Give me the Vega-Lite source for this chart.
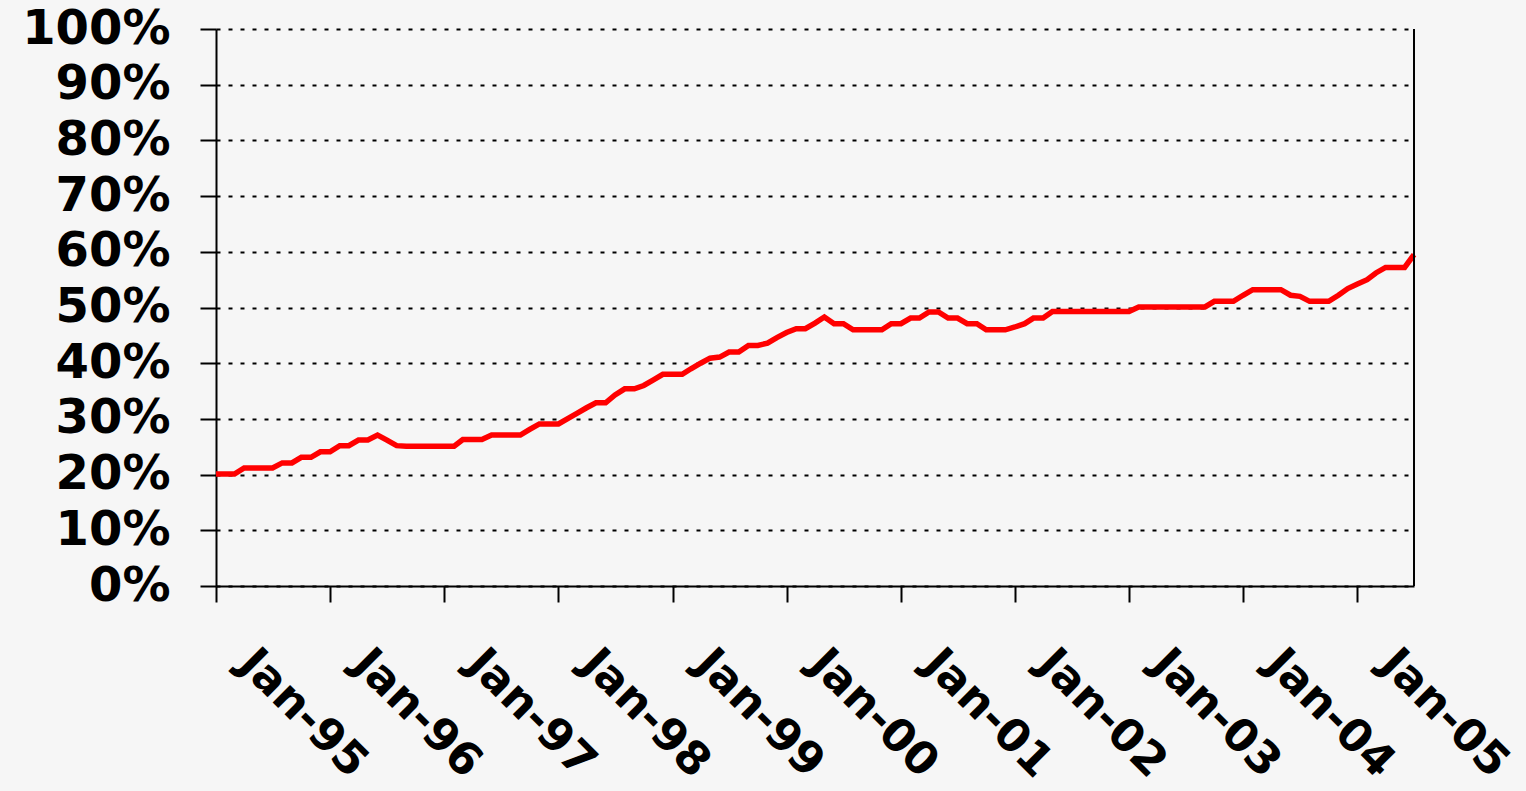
{
  "$schema": "https://vega.github.io/schema/vega-lite/v6.json",
  "autosize": "none",
  "padding": {"left": 216, "top": 29, "right": 112, "bottom": 205},
  "width": 1198,
  "height": 557,
  "background": "#f6f6f6",
  "config": {"view": {"stroke": null}},
  "data": {"values": [
    {"date": "1995/01/01", "share": 0.201}, {"date": "1995/02/01", "share": 0.201}, {"date": "1995/03/01", "share": 0.201},
    {"date": "1995/04/01", "share": 0.212}, {"date": "1995/05/01", "share": 0.212}, {"date": "1995/06/01", "share": 0.212},
    {"date": "1995/07/01", "share": 0.212}, {"date": "1995/08/01", "share": 0.221}, {"date": "1995/09/01", "share": 0.221},
    {"date": "1995/10/01", "share": 0.231}, {"date": "1995/11/01", "share": 0.231}, {"date": "1995/12/01", "share": 0.241},
    {"date": "1996/01/01", "share": 0.241}, {"date": "1996/02/01", "share": 0.252}, {"date": "1996/03/01", "share": 0.252},
    {"date": "1996/04/01", "share": 0.262}, {"date": "1996/05/01", "share": 0.262}, {"date": "1996/06/01", "share": 0.271},
    {"date": "1996/07/01", "share": 0.262}, {"date": "1996/08/01", "share": 0.252}, {"date": "1996/09/01", "share": 0.251},
    {"date": "1996/10/01", "share": 0.251}, {"date": "1996/11/01", "share": 0.251}, {"date": "1996/12/01", "share": 0.251},
    {"date": "1997/01/01", "share": 0.251}, {"date": "1997/02/01", "share": 0.251}, {"date": "1997/03/01", "share": 0.263},
    {"date": "1997/04/01", "share": 0.263}, {"date": "1997/05/01", "share": 0.263}, {"date": "1997/06/01", "share": 0.271},
    {"date": "1997/07/01", "share": 0.271}, {"date": "1997/08/01", "share": 0.271}, {"date": "1997/09/01", "share": 0.271},
    {"date": "1997/10/01", "share": 0.281}, {"date": "1997/11/01", "share": 0.291}, {"date": "1997/12/01", "share": 0.291},
    {"date": "1998/01/01", "share": 0.291}, {"date": "1998/02/01", "share": 0.301}, {"date": "1998/03/01", "share": 0.310},
    {"date": "1998/04/01", "share": 0.320}, {"date": "1998/05/01", "share": 0.329}, {"date": "1998/06/01", "share": 0.329},
    {"date": "1998/07/01", "share": 0.343}, {"date": "1998/08/01", "share": 0.354}, {"date": "1998/09/01", "share": 0.354},
    {"date": "1998/10/01", "share": 0.360}, {"date": "1998/11/01", "share": 0.370}, {"date": "1998/12/01", "share": 0.380},
    {"date": "1999/01/01", "share": 0.380}, {"date": "1999/02/01", "share": 0.380}, {"date": "1999/03/01", "share": 0.390},
    {"date": "1999/04/01", "share": 0.400}, {"date": "1999/05/01", "share": 0.409}, {"date": "1999/06/01", "share": 0.411},
    {"date": "1999/07/01", "share": 0.420}, {"date": "1999/08/01", "share": 0.420}, {"date": "1999/09/01", "share": 0.432},
    {"date": "1999/10/01", "share": 0.432}, {"date": "1999/11/01", "share": 0.436}, {"date": "1999/12/01", "share": 0.446},
    {"date": "2000/01/01", "share": 0.455}, {"date": "2000/02/01", "share": 0.462}, {"date": "2000/03/01", "share": 0.462},
    {"date": "2000/04/01", "share": 0.472}, {"date": "2000/05/01", "share": 0.483}, {"date": "2000/06/01", "share": 0.471},
    {"date": "2000/07/01", "share": 0.471}, {"date": "2000/08/01", "share": 0.460}, {"date": "2000/09/01", "share": 0.460},
    {"date": "2000/10/01", "share": 0.460}, {"date": "2000/11/01", "share": 0.460}, {"date": "2000/12/01", "share": 0.471},
    {"date": "2001/01/01", "share": 0.471}, {"date": "2001/02/01", "share": 0.481}, {"date": "2001/03/01", "share": 0.481},
    {"date": "2001/04/01", "share": 0.492}, {"date": "2001/05/01", "share": 0.492}, {"date": "2001/06/01", "share": 0.481},
    {"date": "2001/07/01", "share": 0.481}, {"date": "2001/08/01", "share": 0.471}, {"date": "2001/09/01", "share": 0.471},
    {"date": "2001/10/01", "share": 0.460}, {"date": "2001/11/01", "share": 0.460}, {"date": "2001/12/01", "share": 0.460},
    {"date": "2002/01/01", "share": 0.465}, {"date": "2002/02/01", "share": 0.471}, {"date": "2002/03/01", "share": 0.481},
    {"date": "2002/04/01", "share": 0.481}, {"date": "2002/05/01", "share": 0.493}, {"date": "2002/06/01", "share": 0.493},
    {"date": "2002/07/01", "share": 0.493}, {"date": "2002/08/01", "share": 0.493}, {"date": "2002/09/01", "share": 0.493},
    {"date": "2002/10/01", "share": 0.493}, {"date": "2002/11/01", "share": 0.493}, {"date": "2002/12/01", "share": 0.493},
    {"date": "2003/01/01", "share": 0.493}, {"date": "2003/02/01", "share": 0.501}, {"date": "2003/03/01", "share": 0.501},
    {"date": "2003/04/01", "share": 0.501}, {"date": "2003/05/01", "share": 0.501}, {"date": "2003/06/01", "share": 0.501},
    {"date": "2003/07/01", "share": 0.501}, {"date": "2003/08/01", "share": 0.501}, {"date": "2003/09/01", "share": 0.501},
    {"date": "2003/10/01", "share": 0.511}, {"date": "2003/11/01", "share": 0.511}, {"date": "2003/12/01", "share": 0.511},
    {"date": "2004/01/01", "share": 0.522}, {"date": "2004/02/01", "share": 0.532}, {"date": "2004/03/01", "share": 0.532},
    {"date": "2004/04/01", "share": 0.532}, {"date": "2004/05/01", "share": 0.532}, {"date": "2004/06/01", "share": 0.522},
    {"date": "2004/07/01", "share": 0.520}, {"date": "2004/08/01", "share": 0.511}, {"date": "2004/09/01", "share": 0.511},
    {"date": "2004/10/01", "share": 0.511}, {"date": "2004/11/01", "share": 0.522}, {"date": "2004/12/01", "share": 0.534},
    {"date": "2005/01/01", "share": 0.542}, {"date": "2005/02/01", "share": 0.550}, {"date": "2005/03/01", "share": 0.562},
    {"date": "2005/04/01", "share": 0.572}, {"date": "2005/05/01", "share": 0.572}, {"date": "2005/06/01", "share": 0.572},
    {"date": "2005/07/01", "share": 0.595}
  ]},
  "layer": [
    {
      "mark": {"type": "line", "color": "#ff0000", "strokeWidth": 5.5, "strokeJoin": "miter", "clip": false},
      "encoding": {
        "x": {
          "field": "date", "type": "temporal",
          "scale": {"domain": [{"year": 1995, "month": 1, "date": 1}, {"year": 2005, "month": 7, "date": 1}], "nice": false},
          "axis": {
            "title": null,
            "values": [
              {"year": 1995, "month": 1, "date": 1}, {"year": 1996, "month": 1, "date": 1}, {"year": 1997, "month": 1, "date": 1},
              {"year": 1998, "month": 1, "date": 1}, {"year": 1999, "month": 1, "date": 1}, {"year": 2000, "month": 1, "date": 1},
              {"year": 2001, "month": 1, "date": 1}, {"year": 2002, "month": 1, "date": 1}, {"year": 2003, "month": 1, "date": 1},
              {"year": 2004, "month": 1, "date": 1}, {"year": 2005, "month": 1, "date": 1}
            ],
            "format": "%b-%y",
            "grid": false,
            "labelAngle": 45,
            "labelAlign": "left",
            "labelBaseline": "middle",
            "labelPadding": 54,
            "labelOffset": 30,
            "labelFont": "DejaVu Sans",
            "labelFontWeight": "bold",
            "labelFontSize": 45,
            "labelColor": "#000000",
            "labelLimit": 600,
            "labelOverlap": false,
            "labelFlush": false,
            "labelBound": false,
            "tickSize": 16,
            "tickWidth": 2,
            "tickColor": "#000000",
            "domainColor": "#000000",
            "domainWidth": 2
          }
        },
        "y": {
          "field": "share", "type": "quantitative",
          "scale": {"domain": [0, 1], "nice": false},
          "axis": {
            "title": null,
            "values": [0, 0.1, 0.2, 0.3, 0.4, 0.5, 0.6, 0.7, 0.8, 0.9, 1],
            "format": ".0%",
            "grid": true,
            "gridColor": "#000000",
            "gridDash": [4, 8],
            "gridWidth": 2,
            "labelFont": "DejaVu Sans",
            "labelFontWeight": "bold",
            "labelFontSize": 48,
            "labelColor": "#000000",
            "labelPadding": 30,
            "labelFlush": false,
            "labelOverlap": false,
            "tickSize": 16,
            "tickWidth": 2,
            "tickColor": "#000000",
            "domainColor": "#000000",
            "domainWidth": 2
          }
        }
      }
    },
    {
      "mark": {"type": "rule", "color": "#000000", "strokeWidth": 2},
      "encoding": {
        "x": {"datum": {"year": 2005, "month": 7, "date": 1}, "type": "temporal"}
      }
    }
  ]
}
